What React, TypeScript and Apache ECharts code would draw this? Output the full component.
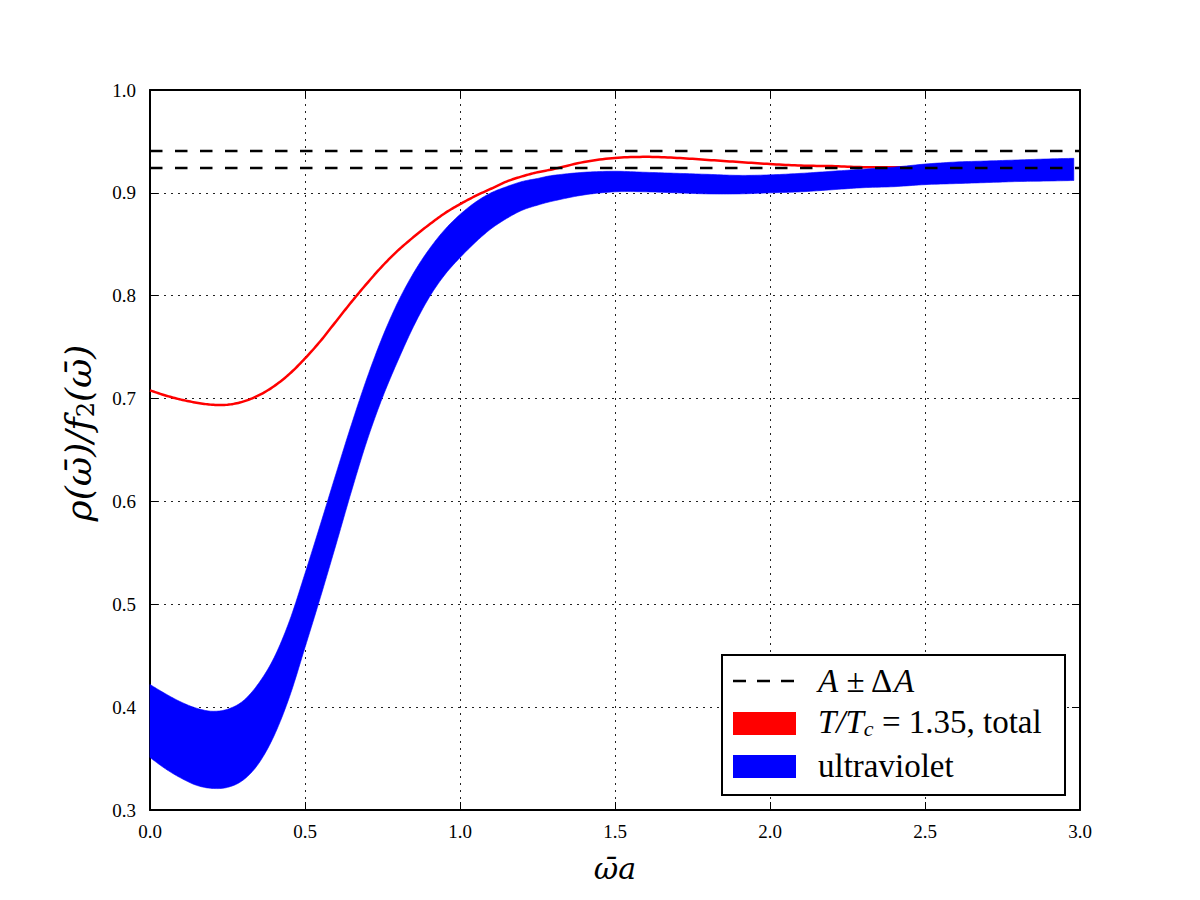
import React, { useEffect, useRef } from "react";
import * as echarts from "echarts";

// Sample points along ω̄a
const omegaA = [
  0, 0.05, 0.1, 0.15, 0.2, 0.25, 0.3, 0.35, 0.4, 0.45, 0.5, 0.55, 0.6, 0.65, 0.7,
  0.75, 0.8, 0.85, 0.9, 0.95, 1.0, 1.05, 1.1, 1.15, 1.2, 1.25, 1.3, 1.4, 1.5, 1.6,
  1.7, 1.8, 1.9, 2.0, 2.1, 2.2, 2.3, 2.4, 2.5, 2.6, 2.7, 2.8, 2.9, 2.98,
];

// T/Tc = 1.35, total
const totalRatio = [
  0.708, 0.703, 0.699, 0.696, 0.694, 0.694, 0.697, 0.703, 0.712, 0.724, 0.739, 0.756,
  0.775, 0.794, 0.812, 0.829, 0.844, 0.857, 0.869, 0.88, 0.889, 0.897, 0.904, 0.911,
  0.916, 0.92, 0.923, 0.93, 0.934, 0.935, 0.934, 0.932, 0.93, 0.928, 0.9265, 0.926,
  0.925, 0.925, 0.9245, 0.924, 0.924, 0.924, 0.924, 0.924,
];

// ultraviolet band, lower and upper edges
const uvLower = [
  0.351, 0.34, 0.331, 0.324, 0.321, 0.322, 0.329, 0.345, 0.372, 0.41, 0.458, 0.507,
  0.558, 0.61, 0.659, 0.701, 0.737, 0.77, 0.798, 0.82, 0.837, 0.852, 0.865, 0.875,
  0.883, 0.888, 0.892, 0.898, 0.901, 0.901, 0.9, 0.899, 0.899, 0.9, 0.901, 0.903,
  0.905, 0.906, 0.908, 0.909, 0.91, 0.911, 0.9115, 0.912,
];
const uvUpper = [
  0.422, 0.413, 0.405, 0.399, 0.396, 0.398, 0.406, 0.423, 0.448, 0.484, 0.53, 0.578,
  0.627, 0.675, 0.72, 0.76, 0.794, 0.822, 0.845, 0.864, 0.879, 0.891, 0.9, 0.906,
  0.911, 0.914, 0.917, 0.92, 0.921, 0.92, 0.919, 0.918, 0.917, 0.9175, 0.919, 0.921,
  0.923, 0.925, 0.928, 0.93, 0.931, 0.932, 0.933, 0.9336,
];

// A + ΔA and A − ΔA
const aLevels = [0.9407, 0.9242];

const xRange = [0, 3];
const xStep = 0.5;
const yRange = [0.3, 1.0];
const yStep = 0.1;

const SERIF = "'Liberation Serif', 'DejaVu Serif', serif";
const MATH = "'DejaVu Serif', serif";

// Catmull-Rom smoothing of a curve in pixel space, for drawing only
function smoothEdge(pts: number[][], steps = 10): number[][] {
  const out: number[][] = [];
  const n = pts.length;
  for (let i = 0; i < n - 1; i++) {
    const p0 = pts[Math.max(i - 1, 0)];
    const p1 = pts[i];
    const p2 = pts[i + 1];
    const p3 = pts[Math.min(i + 2, n - 1)];
    for (let s = 0; s < steps; s++) {
      const t = s / steps;
      const t2 = t * t;
      const t3 = t2 * t;
      const f = (a: number, b: number, c: number, d: number) =>
        0.5 * (2 * b + (-a + c) * t + (2 * a - 5 * b + 4 * c - d) * t2 + (-a + 3 * b - 3 * c + d) * t3);
      out.push([f(p0[0], p1[0], p2[0], p3[0]), f(p0[1], p1[1], p2[1], p3[1])]);
    }
  }
  out.push(pts[n - 1]);
  return out;
}

export default function App() {
  const ref = useRef<HTMLDivElement>(null);

  useEffect(() => {
    const chart = echarts.init(ref.current!, null, { renderer: "svg" });

    const frameLine = { show: true, onZero: false, lineStyle: { color: "#000", width: 2 } };
    const tick = { show: true, inside: true, length: 8, lineStyle: { color: "#000", width: 1 } };
    const grid = { show: true, lineStyle: { color: "#222", width: 1, type: [2, 5] as number[] } };
    const tickLabel = {
      color: "#000",
      fontFamily: SERIF,
      fontSize: 19,
      formatter: (v: number) => v.toFixed(1),
    };

    const xBase = { type: "value" as const, min: xRange[0], max: xRange[1], interval: xStep };
    const yBase = { type: "value" as const, min: yRange[0], max: yRange[1], interval: yStep };

    const levelSeries = aLevels.map((v, i) => ({
      name: "A±ΔA " + i,
      type: "line",
      data: [
        [xRange[0], v],
        [xRange[1], v],
      ],
      symbol: "none",
      silent: true,
      lineStyle: { color: "#000", width: 2.5, type: [12.5, 12.5] },
      z: 5,
    }));

    const totalData = omegaA.map((x, i) => [x, totalRatio[i]]);
    const bandData = omegaA.map((x, i) => [x, uvLower[i], uvUpper[i]]);

    chart.setOption({
      animation: false,
      backgroundColor: "#fff",
      grid: { left: 150, top: 90, width: 930, height: 720, containLabel: false },
      xAxis: [
        {
          ...xBase,
          position: "bottom",
          axisLine: frameLine,
          axisTick: tick,
          axisLabel: { ...tickLabel, margin: 12 },
          splitLine: grid,
        },
        {
          ...xBase,
          position: "top",
          axisLine: frameLine,
          axisTick: tick,
          axisLabel: { show: false },
          splitLine: { show: false },
        },
      ],
      yAxis: [
        {
          ...yBase,
          position: "left",
          axisLine: frameLine,
          axisTick: tick,
          axisLabel: { ...tickLabel, margin: 14 },
          splitLine: grid,
        },
        {
          ...yBase,
          position: "right",
          axisLine: frameLine,
          axisTick: tick,
          axisLabel: { show: false },
          splitLine: { show: false },
        },
      ],
      series: [
        {
          name: "total",
          type: "custom",
          data: totalData,
          encode: { x: 0, y: 1 },
          z: 2,
          silent: true,
          renderItem: (params: any, api: any) => {
            if (params.dataIndex !== 0) return null;
            const pts = smoothEdge(totalData.map((d) => api.coord(d)));
            return {
              type: "polyline",
              shape: { points: pts },
              style: { fill: "none", stroke: "#ff0000", lineWidth: 2.5 },
            };
          },
        },
        {
          name: "ultraviolet",
          type: "custom",
          data: bandData,
          encode: { x: 0, y: [1, 2] },
          z: 3,
          silent: true,
          renderItem: (params: any, api: any) => {
            if (params.dataIndex !== 0) return null;
            const upper = smoothEdge(bandData.map((d) => api.coord([d[0], d[2]])));
            const lower = smoothEdge(bandData.map((d) => api.coord([d[0], d[1]]))).reverse();
            return {
              type: "polygon",
              shape: { points: upper.concat(lower) },
              style: { fill: "#0000ff", stroke: "#0000ff", lineWidth: 0.6 },
            };
          },
        },
        ...levelSeries,
      ],
      graphic: [
        // x-axis title
        {
          type: "text",
          x: 615,
          y: 868,
          z: 100,
          style: {
            text: "ω̄a",
            font: `italic 30px ${MATH}`,
            fill: "#000",
            align: "center",
            verticalAlign: "middle",
          },
        },
        // y-axis title
        {
          type: "text",
          x: 78,
          y: 433,
          z: 100,
          rotation: Math.PI / 2,
          style: {
            text: "{a|ρ(ω̄)/f}{s|2}{a|(ω̄)}",
            align: "center",
            verticalAlign: "middle",
            fill: "#000",
            rich: {
              a: { fontFamily: MATH, fontStyle: "italic", fontSize: 36, fill: "#000" },
              s: {
                fontFamily: MATH,
                fontSize: 24,
                fill: "#000",
                verticalAlign: "bottom",
                padding: [15, 0, 0, 0],
              },
            },
          },
        },
        // legend
        {
          type: "group",
          z: 100,
          children: [
            {
              type: "rect",
              z: 100,
              shape: { x: 722, y: 655, width: 343, height: 140 },
              style: { fill: "#fff", stroke: "#000", lineWidth: 2 },
            },
            {
              type: "line",
              z: 101,
              shape: { x1: 733, y1: 681, x2: 796, y2: 681 },
              style: { stroke: "#000", lineWidth: 2.5, lineDash: [13, 11] },
            },
            {
              type: "rect",
              z: 101,
              shape: { x: 733, y: 712, width: 63, height: 23 },
              style: { fill: "#ff0000" },
            },
            {
              type: "rect",
              z: 101,
              shape: { x: 733, y: 755, width: 63, height: 23 },
              style: { fill: "#0000ff" },
            },
            {
              type: "text",
              z: 101,
              x: 818,
              y: 681,
              style: {
                text: "{i|A}{n| ± Δ}{i|A}",
                verticalAlign: "middle",
                rich: {
                  i: { fontFamily: SERIF, fontStyle: "italic", fontSize: 33, fill: "#000" },
                  n: { fontFamily: SERIF, fontSize: 33, fill: "#000" },
                },
              },
            },
            {
              type: "text",
              z: 101,
              x: 818,
              y: 722,
              style: {
                text: "{i|T/T}{s|c}{n| = 1.35, total}",
                verticalAlign: "middle",
                rich: {
                  i: { fontFamily: SERIF, fontStyle: "italic", fontSize: 33, fill: "#000" },
                  s: {
                    fontFamily: SERIF,
                    fontStyle: "italic",
                    fontSize: 22,
                    fill: "#000",
                    verticalAlign: "bottom",
                    padding: [13, 0, 0, 0],
                  },
                  n: { fontFamily: SERIF, fontSize: 33, fill: "#000" },
                },
              },
            },
            {
              type: "text",
              z: 101,
              x: 818,
              y: 766,
              style: {
                text: "ultraviolet",
                font: `33px ${SERIF}`,
                fill: "#000",
                verticalAlign: "middle",
              },
            },
          ],
        },
      ],
    });

    return () => chart.dispose();
  }, []);

  return (
    <div
      ref={ref}
      style={{ position: "fixed", left: 0, top: 0, width: 1200, height: 900, background: "#fff" }}
    />
  );
}
